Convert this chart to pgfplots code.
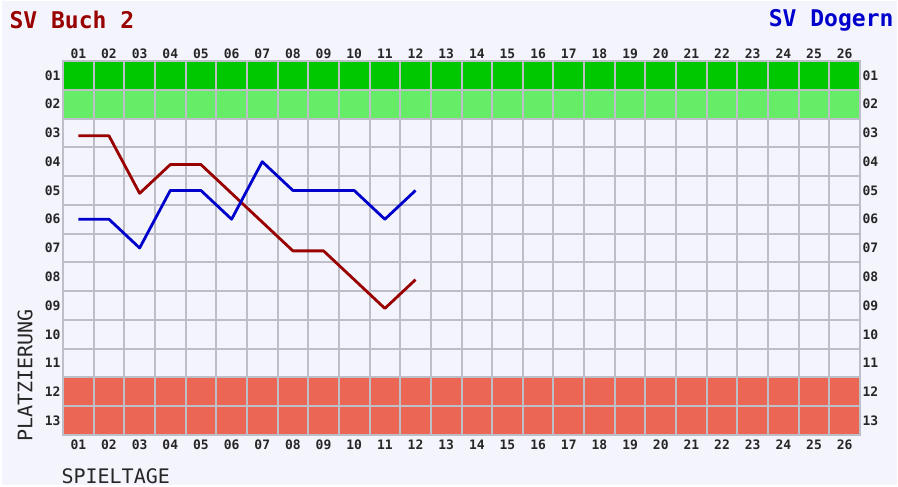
\documentclass[border=0pt]{standalone}
\usepackage{pgfplots}
\pgfplotsset{compat=1.18}
\usepackage{fontspec}
\setmonofont{DejaVu Sans Mono}
\definecolor{bg}{RGB}{244,244,253}
\definecolor{gridc}{RGB}{190,190,200}
\definecolor{dgreen}{RGB}{0,200,0}
\definecolor{lgreen}{RGB}{102,236,102}
\definecolor{rband}{RGB}{236,102,86}
\definecolor{redl}{RGB}{153,0,0}
\definecolor{bluel}{RGB}{0,0,204}
\newcommand{\labs}{01,02,03,04,05,06,07,08,09,10,11,12,13,14,15,16,17,18,19,20,21,22,23,24,25,26}
\begin{document}
\begin{tikzpicture}[x=1pt,y=1pt]
\fill[bg] (0,0) rectangle (898,486);
\draw[white,line width=1.5] (0.75,0.75) rectangle (897.25,485.25);
\pgfplotsset{
  common/.style={
    scale only axis, width=797pt, height=374pt,
    at={(63pt,51pt)}, anchor=south west,
    xmin=0.5, xmax=26.5, ymin=0.5, ymax=13.5, y dir=reverse,
    xtick={1,...,26}, ytick={1,...,13},
    xticklabels={01,02,03,04,05,06,07,08,09,10,11,12,13,14,15,16,17,18,19,20,21,22,23,24,25,26},
    yticklabels={01,02,03,04,05,06,07,08,09,10,11,12,13},
    major tick length=0pt, minor tick length=0pt,
    tick label style={font=\ttfamily\bfseries\fontsize{13}{13}\selectfont, text=black!85},
    xticklabel style={yshift=-1pt},
    clip=false,
  }
}
\begin{axis}[common, axis line style={draw=none},
    xticklabel pos=lower, yticklabel pos=left,
    yticklabel style={xshift=1pt}]
\fill[dgreen] (axis cs:0.5,0.5) rectangle (axis cs:26.5,1.5);
\fill[lgreen] (axis cs:0.5,1.5) rectangle (axis cs:26.5,2.5);
\fill[rband] (axis cs:0.5,11.5) rectangle (axis cs:26.5,13.5);
\end{axis}
\begin{axis}[common,
    xticklabel pos=upper, yticklabel pos=right,
    yticklabel style={xshift=-1pt},
    axis line style={gridc, line width=2pt},
    minor xtick={1.5,2.5,...,25.5}, minor ytick={1.5,2.5,...,12.5},
    minor grid style={gridc, line width=2pt},
    xminorgrids, yminorgrids]
\addplot[redl, line width=2.8pt, line join=round] coordinates {
 (1,3.1) (2,3.1) (3,5.1) (4,4.1) (5,4.1) (6,5.1) (7,6.1) (8,7.1) (9,7.1) (10,8.1) (11,9.1) (12,8.1)};
\addplot[bluel, line width=2.8pt, line join=round] coordinates {
 (1,6) (2,6) (3,7) (4,5) (5,5) (6,6) (7,4) (8,5) (9,5) (10,5) (11,6) (12,5)};
\end{axis}
\node[anchor=west, text=redl, font=\ttfamily\bfseries\fontsize{23}{23}\selectfont] at (6,466) {SV Buch 2};
\node[anchor=east, text=bluel, font=\ttfamily\bfseries\fontsize{23}{23}\selectfont] at (897,466) {SV Dogern};
\node[rotate=90, anchor=west, font=\ttfamily\fontsize{20}{20}\selectfont, text=black!85] at (25,41) {PLATZIERUNG};
\node[anchor=west, font=\ttfamily\fontsize{20}{20}\selectfont, text=black!85] at (58,10) {SPIELTAGE};
\end{tikzpicture}
\end{document}
